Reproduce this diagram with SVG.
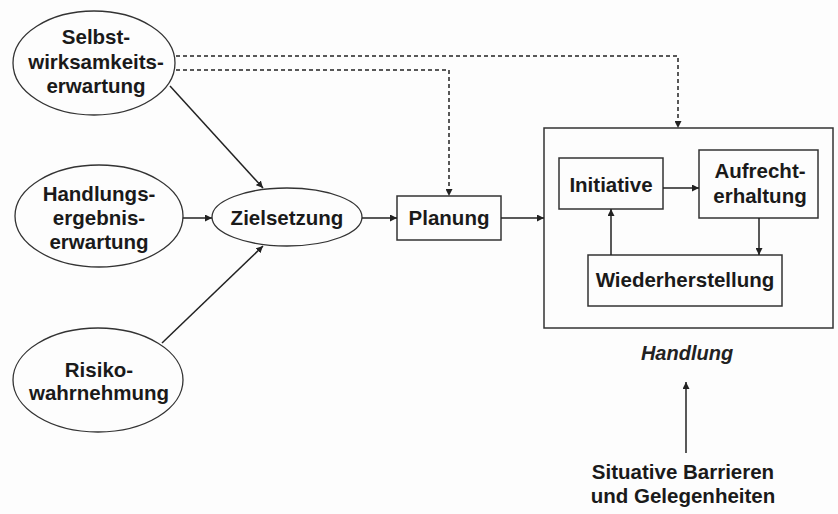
<svg xmlns="http://www.w3.org/2000/svg" width="838" height="514" viewBox="0 0 838 514">
<defs>
<marker id="ah" viewBox="0 0 10 10" refX="10" refY="5" markerWidth="7" markerHeight="7" markerUnits="userSpaceOnUse" orient="auto">
<path d="M0,0 L10,5 L0,10 z" fill="#222"/>
</marker>
<style>
.sh{fill:none;stroke:#333;stroke-width:1.5}
.el{fill:none;stroke:#333;stroke-width:1.3}
.t{font-family:"Liberation Sans",Arial,sans-serif;font-weight:bold;font-size:20.5px;fill:#1a1a1a;text-anchor:middle}
.ti{font-family:"Liberation Sans",Arial,sans-serif;font-style:italic;font-weight:bold;font-size:20px;fill:#222;text-anchor:middle}
.c{fill:none;stroke:#222;stroke-width:1.5;marker-end:url(#ah)}
.d{fill:none;stroke:#222;stroke-width:1.5;stroke-dasharray:4,3;marker-end:url(#ah)}
</style>
</defs>
<rect width="838" height="514" fill="#fdfdfd"/>
<g id="selbst">
<ellipse class="el" cx="94" cy="63" rx="81" ry="52"/>
<text class="t" x="96" y="44">Selbst-</text>
<text class="t" x="96" y="69">wirksamkeits-</text>
<text class="t" x="96" y="93">erwartung</text>
</g>
<g id="handlungsergebnis">
<ellipse class="el" cx="99" cy="216" rx="84" ry="51"/>
<text class="t" x="99" y="201">Handlungs-</text>
<text class="t" x="99" y="225">ergebnis-</text>
<text class="t" x="99" y="249">erwartung</text>
</g>
<g id="risiko">
<ellipse class="el" cx="98" cy="380" rx="85" ry="52"/>
<text class="t" x="99" y="377">Risiko-</text>
<text class="t" x="99" y="400">wahrnehmung</text>
</g>
<g id="zielsetzung">
<ellipse class="el" cx="287" cy="217" rx="75" ry="29"/>
<text class="t" x="287" y="225">Zielsetzung</text>
</g>
<g id="planung">
<rect class="sh" x="397" y="196" width="104" height="44"/>
<text class="t" x="449" y="225">Planung</text>
</g>
<g id="handlung">
<rect class="sh" x="544" y="128" width="289" height="200"/>
<text class="ti" x="687" y="360">Handlung</text>
</g>
<g id="initiative">
<rect class="sh" x="559" y="158" width="104" height="51"/>
<text class="t" x="611" y="192">Initiative</text>
</g>
<g id="aufrechterhaltung">
<rect class="sh" x="699" y="150" width="119" height="68"/>
<text class="t" x="760" y="178">Aufrecht-</text>
<text class="t" x="760" y="203">erhaltung</text>
</g>
<g id="wiederherstellung">
<rect class="sh" x="588" y="255" width="194" height="51"/>
<text class="t" x="685" y="287">Wiederherstellung</text>
</g>
<g id="situative">
<text class="t" x="683" y="479">Situative Barrieren</text>
<text class="t" x="683" y="503">und Gelegenheiten</text>
</g>
<g id="connectors">
<line class="c" x1="170" y1="86" x2="263" y2="188"/>
<line class="c" x1="183" y1="218" x2="212" y2="218"/>
<line class="c" x1="162" y1="343" x2="263" y2="246"/>
<line class="c" x1="362" y1="218" x2="397" y2="218"/>
<line class="c" x1="501" y1="218" x2="544" y2="218"/>
<line class="c" x1="663" y1="188" x2="699" y2="188"/>
<line class="c" x1="759" y1="218" x2="759" y2="255"/>
<line class="c" x1="611" y1="255" x2="611" y2="209"/>
<line class="c" x1="686" y1="453" x2="686" y2="382"/>
<polyline class="d" points="176,56 678,56 678,128"/>
<polyline class="d" points="176,70 449,70 449,196"/>
</g>
</svg>
